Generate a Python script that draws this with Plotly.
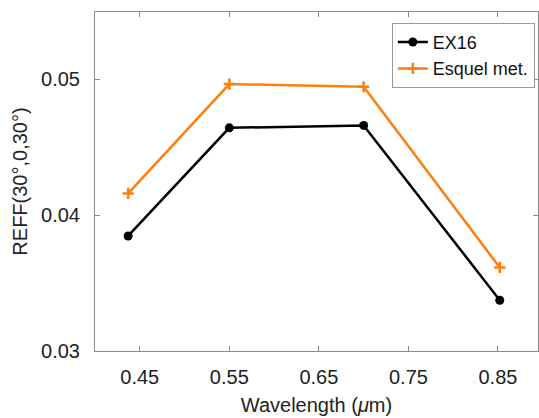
import plotly.graph_objects as go

wavelength = [0.437, 0.55, 0.70, 0.852]
ex16 = [0.03847, 0.04643, 0.04661, 0.03374]
esquel = [0.0416, 0.04965, 0.04945, 0.03615]
x_ticks = [0.45, 0.55, 0.65, 0.75, 0.85]
y_ticks = [0.03, 0.04, 0.05]

FONT = "Liberation Sans, Arial, sans-serif"
AX = "#8a8a8a"

fig = go.Figure()
fig.add_trace(go.Scatter(
    x=wavelength, y=ex16, name="EX16", mode="lines+markers",
    line=dict(color="black", width=2.5),
    marker=dict(symbol="circle", size=9, color="black"),
))
fig.add_trace(go.Scatter(
    x=wavelength, y=esquel, name="Esquel met.", mode="lines+markers",
    line=dict(color="#ff7f0e", width=2.5),
    marker=dict(symbol="cross-thin", size=8, color="#ff7f0e",
                line=dict(color="#ff7f0e", width=2.5)),
))

axis_common = dict(
    showline=True, linecolor=AX, linewidth=1, mirror="ticks",
    ticks="inside", ticklen=5, tickcolor=AX, tickwidth=1,
    showgrid=False, zeroline=False,
    tickfont=dict(family=FONT, size=20, color="#222"),
)

fig.update_layout(
    width=539, height=418,
    margin=dict(l=95, r=1, t=12, b=67),
    paper_bgcolor="white", plot_bgcolor="white",
    font=dict(family=FONT, size=20, color="#222"),
    showlegend=True,
    legend=dict(
        x=0.670, y=0.968, xanchor="left", yanchor="top",
        bordercolor="#999", borderwidth=1, bgcolor="white",
        font=dict(family=FONT, size=18, color="#111"),
        tracegroupgap=0, itemwidth=30,
    ),
)
fig.update_xaxes(
    range=[0.4, 0.8947], tickvals=x_ticks,
    ticktext=[f"{v:.2f}" for v in x_ticks],
    ticklabelstandoff=8,
    title=dict(text="Wavelength (<i>μ</i>m)", standoff=10,
               font=dict(family=FONT, size=20, color="#222")),
    **axis_common,
)
fig.update_yaxes(
    range=[0.03, 0.05496], tickvals=y_ticks,
    ticktext=[f"{v:.2f}" for v in y_ticks],
    ticklabelstandoff=10,
    title=dict(text="REFF(30°,0,30°)", standoff=8,
               font=dict(family=FONT, size=20, color="#222")),
    **axis_common,
)

fig.write_html("out.html")
